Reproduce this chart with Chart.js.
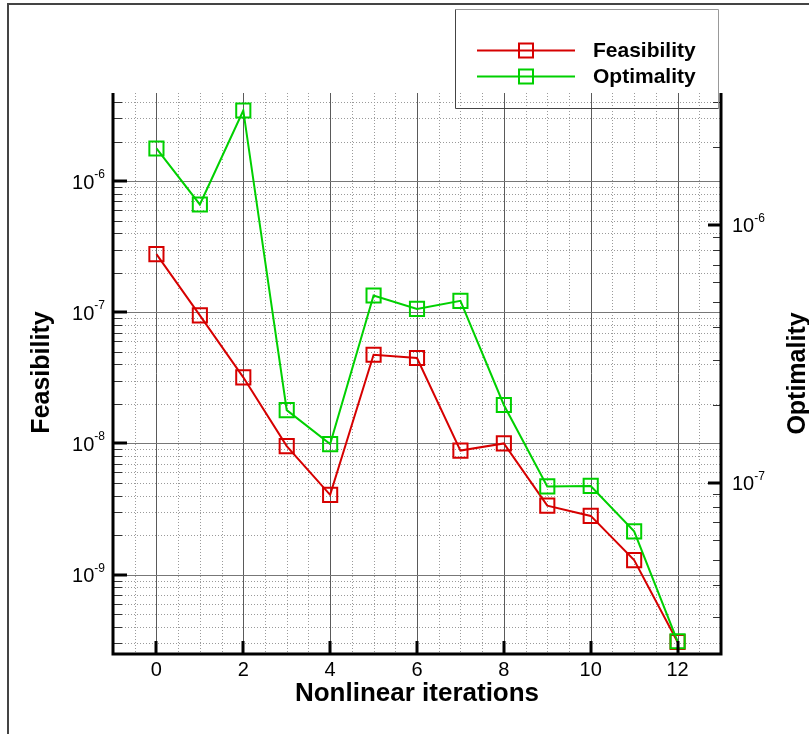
<!DOCTYPE html>
<html>
<head>
<meta charset="utf-8">
<script src="https://cdn.jsdelivr.net/npm/chart.js@4/dist/chart.umd.min.js"></script>
<style>
  html, body { margin: 0; padding: 0; background: #fff; }
  canvas { display: block; }
</style>
</head>
<body>
<canvas id="convChart" width="809" height="734"></canvas>
<script>
// values
const iterations = [0, 1, 2, 3, 4, 5, 6, 7, 8, 9, 10, 11, 12];
const feasibility = [2.77e-7, 9.46e-8, 3.19e-8, 9.53e-9, 4.05e-9, 4.74e-8, 4.48e-8,
                     8.81e-9, 1.0e-8, 3.35e-9, 2.80e-9, 1.29e-9, 3.06e-10];
const optimality = [1.98e-6, 1.20e-6, 2.78e-6, 1.91e-7, 1.41e-7, 5.32e-7, 4.72e-7,
                    5.07e-7, 2.00e-7, 9.66e-8, 9.70e-8, 6.46e-8, 2.42e-8];
const xTickLabels = [0, 2, 4, 6, 8, 10, 12];
const feasDecades = [-9, -8, -7, -6];
const optDecades = [-7, -6];

const RED = '#d60000';
const GREEN = '#00d000';
const FONT = '"Liberation Sans", Arial, Helvetica, sans-serif';

function pairs(ys) {
  return iterations.map((x, i) => ({ x: x, y: ys[i] }));
}

function drawPow(ctx, exp, x, y, align) {
  ctx.font = '20px ' + FONT;
  const wb = ctx.measureText('10').width;
  ctx.font = '12px ' + FONT;
  const ws = ctx.measureText(String(exp)).width;
  const left = align === 'right' ? x - wb - ws : x;
  ctx.textAlign = 'left';
  ctx.textBaseline = 'alphabetic';
  ctx.font = '20px ' + FONT;
  ctx.fillText('10', left, y + 7.5);
  ctx.font = '12px ' + FONT;
  ctx.fillText(String(exp), left + wb, y - 3);
}

function hline(ctx, x1, x2, y) {
  y = Math.round(y) + 0.5;
  ctx.beginPath(); ctx.moveTo(x1, y); ctx.lineTo(x2, y); ctx.stroke();
}
function vline(ctx, x, y1, y2) {
  x = Math.round(x) + 0.5;
  ctx.beginPath(); ctx.moveTo(x, y1); ctx.lineTo(x, y2); ctx.stroke();
}

// log minor values (2..9 x 10^d) inside a scale's range
function logMinors(scale) {
  const out = [];
  for (let d = Math.floor(Math.log10(scale.min)); d <= Math.ceil(Math.log10(scale.max)); d++) {
    for (let m = 2; m <= 9; m++) {
      const v = m * Math.pow(10, d);
      if (v > scale.min && v < scale.max) out.push(v);
    }
  }
  return out;
}

const framePlugin = {
  id: 'framePlugin',
  beforeDatasetsDraw(chart) {
    const ctx = chart.ctx;
    const a = chart.chartArea;
    const xs = chart.scales.x, yl = chart.scales.yFeas;
    ctx.save();
    // dotted minor grid
    ctx.strokeStyle = '#9a9a9a';
    ctx.lineWidth = 1;
    ctx.setLineDash([1, 2]);
    for (let v = Math.ceil(xs.min * 2) / 2; v <= xs.max; v += 0.5) {
      if (v % 2 === 0) continue;
      vline(ctx, xs.getPixelForValue(v), a.top, a.bottom);
    }
    logMinors(yl).forEach(v => hline(ctx, a.left, a.right, yl.getPixelForValue(v)));
    // solid major grid
    ctx.setLineDash([]);
    ctx.strokeStyle = '#5a5a5a';
    xTickLabels.forEach(v => vline(ctx, xs.getPixelForValue(v), a.top, a.bottom));
    ctx.strokeStyle = '#777';
    feasDecades.forEach(d => hline(ctx, a.left, a.right, yl.getPixelForValue(Math.pow(10, d))));
    ctx.restore();
  },
  afterDatasetsDraw(chart) {
    const ctx = chart.ctx;
    const a = chart.chartArea;
    const xs = chart.scales.x, yl = chart.scales.yFeas, yr = chart.scales.yOpt;
    ctx.save();
    ctx.fillStyle = '#000';
    ctx.strokeStyle = '#000';

    // tick marks (pointing into the plot)
    ctx.lineWidth = 1;
    ctx.strokeStyle = '#333';
    logMinors(yl).forEach(v => {
      const y = Math.round(yl.getPixelForValue(v)) + 0.5;
      ctx.beginPath(); ctx.moveTo(a.left, y); ctx.lineTo(a.left + 9, y); ctx.stroke();
    });
    logMinors(yr).forEach(v => {
      const y = Math.round(yr.getPixelForValue(v)) + 0.5;
      ctx.beginPath(); ctx.moveTo(a.right, y); ctx.lineTo(a.right - 8, y); ctx.stroke();
    });
    ctx.strokeStyle = '#000';
    ctx.lineWidth = 3;
    feasDecades.forEach(d => {
      const y = Math.round(yl.getPixelForValue(Math.pow(10, d)));
      ctx.beginPath(); ctx.moveTo(a.left, y); ctx.lineTo(a.left + 14, y); ctx.stroke();
    });
    optDecades.forEach(d => {
      const y = Math.round(yr.getPixelForValue(Math.pow(10, d)));
      ctx.beginPath(); ctx.moveTo(a.right, y); ctx.lineTo(a.right - 13, y); ctx.stroke();
    });
    xTickLabels.forEach(v => {
      const x = Math.round(xs.getPixelForValue(v));
      ctx.beginPath(); ctx.moveTo(x, a.bottom); ctx.lineTo(x, a.bottom - 13); ctx.stroke();
    });

    // axis lines
    ctx.lineWidth = 3;
    ctx.beginPath();
    ctx.moveTo(a.left, a.top); ctx.lineTo(a.left, a.bottom);
    ctx.lineTo(a.right, a.bottom); ctx.lineTo(a.right, a.top);
    ctx.stroke();

    // tick labels
    feasDecades.forEach(d => drawPow(ctx, d, a.left - 8, yl.getPixelForValue(Math.pow(10, d)), 'right'));
    optDecades.forEach(d => drawPow(ctx, d, a.right + 11, yr.getPixelForValue(Math.pow(10, d)), 'left'));
    ctx.font = '20px ' + FONT;
    ctx.textAlign = 'center';
    ctx.textBaseline = 'alphabetic';
    xTickLabels.forEach(v => ctx.fillText(String(v), xs.getPixelForValue(v), a.bottom + 22));

    // axis titles
    ctx.font = 'bold 26px ' + FONT;
    ctx.fillText('Nonlinear iterations', (a.left + a.right) / 2, 701);
    ctx.font = 'bold 25px ' + FONT;
    ctx.save();
    ctx.translate(49, 372.5);
    ctx.rotate(-Math.PI / 2);
    ctx.fillText('Feasibility', 0, 0);
    ctx.restore();
    ctx.save();
    ctx.translate(804.5, 373.5);
    ctx.rotate(-Math.PI / 2);
    ctx.fillText('Optimality', 0, 0);
    ctx.restore();

    // legend
    ctx.lineWidth = 1;
    ctx.strokeStyle = '#999';
    ctx.beginPath(); ctx.moveTo(455.5, 9.5); ctx.lineTo(718.5, 9.5); ctx.lineTo(718.5, 108.5); ctx.stroke();
    ctx.strokeStyle = '#444';
    ctx.beginPath(); ctx.moveTo(455.5, 9.5); ctx.lineTo(455.5, 108.5); ctx.lineTo(718.5, 108.5); ctx.stroke();
    chart.data.datasets.forEach((ds, i) => {
      const y = 50.5 + i * 26;
      ctx.strokeStyle = ds.borderColor;
      ctx.lineWidth = 2;
      ctx.beginPath(); ctx.moveTo(477, y); ctx.lineTo(575, y); ctx.stroke();
      ctx.strokeRect(519, y - 7, 14, 14);
      ctx.fillStyle = '#000';
      ctx.font = 'bold 21px ' + FONT;
      ctx.textAlign = 'left';
      ctx.textBaseline = 'middle';
      ctx.fillText(ds.label, 593, y + 1);
    });

    // outer frame
    ctx.strokeStyle = '#444';
    ctx.lineWidth = 2;
    ctx.beginPath(); ctx.moveTo(8, 734); ctx.lineTo(8, 4); ctx.lineTo(809, 4); ctx.stroke();
    ctx.restore();
  }
};

new Chart(document.getElementById('convChart'), {
  type: 'line',
  data: {
    datasets: [{
      label: 'Feasibility',
      data: pairs(feasibility),
      yAxisID: 'yFeas',
      borderColor: RED,
      backgroundColor: 'transparent',
      borderWidth: 2,
      pointStyle: 'rect',
      pointRadius: 10,
      pointBorderWidth: 2,
      pointBackgroundColor: 'transparent',
      order: 1
    }, {
      label: 'Optimality',
      data: pairs(optimality),
      yAxisID: 'yOpt',
      borderColor: GREEN,
      backgroundColor: 'transparent',
      borderWidth: 2,
      pointStyle: 'rect',
      pointRadius: 10,
      pointBorderWidth: 2,
      pointBackgroundColor: 'transparent',
      order: 0
    }]
  },
  options: {
    responsive: false,
    animation: false,
    devicePixelRatio: 1,
    layout: { padding: { left: 113, right: 88, top: 93, bottom: 80 } },
    plugins: { legend: { display: false }, tooltip: { enabled: false } },
    elements: { line: { tension: 0 } },
    scales: {
      x: { type: 'linear', min: -1, max: 13, display: false },
      yFeas: { type: 'logarithmic', position: 'left', min: 2.48e-10, max: 4.69e-6, display: false },
      yOpt: { type: 'logarithmic', position: 'right', min: 2.16e-8, max: 3.25e-6, display: false }
    }
  },
  plugins: [framePlugin]
});
</script>
</body>
</html>
